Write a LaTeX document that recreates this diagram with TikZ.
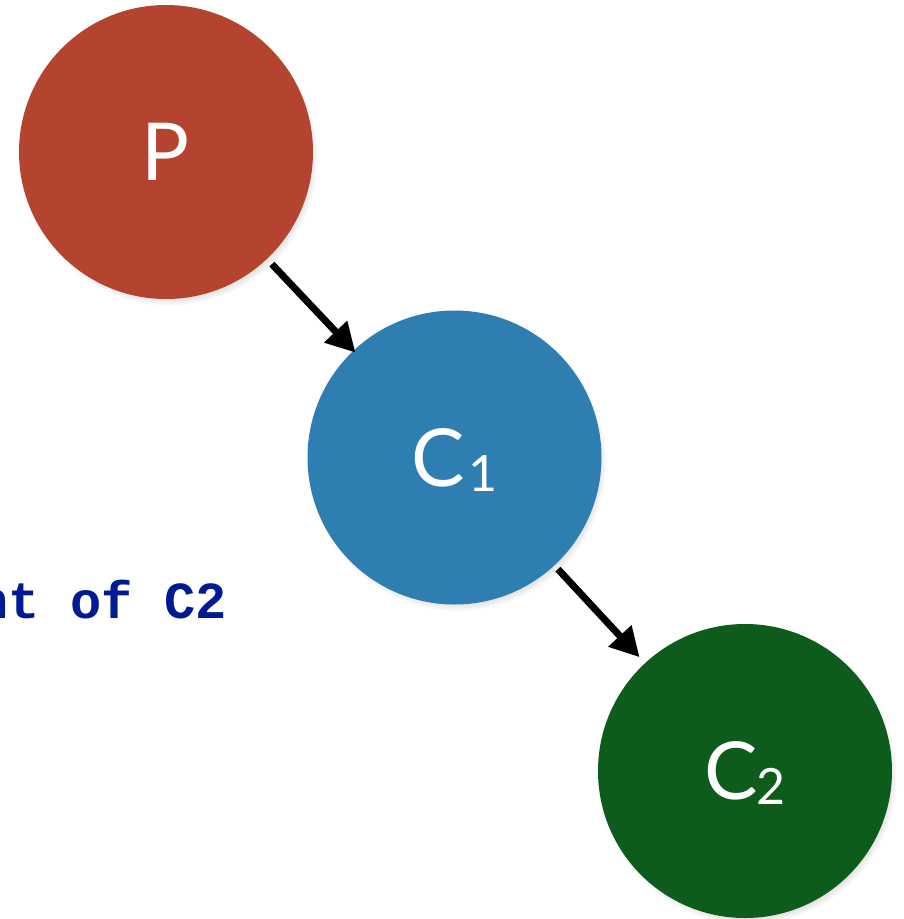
\documentclass[tikz,border=0pt]{standalone}
\usepackage{fontspec}
\setmainfont{Lato}
\newfontfamily\codefont{Liberation Mono}
\usetikzlibrary{arrows.meta,shadows}
\definecolor{nodered}{RGB}{180,67,47}
\definecolor{nodeblue}{RGB}{47,126,178}
\definecolor{nodegreen}{RGB}{13,92,27}
\definecolor{codeblue}{RGB}{0,26,148}
\tikzset{
  ball/.style={circle, minimum size=294pt, inner sep=0pt, text=white,
    font=\fontsize{80}{80}\selectfont, text height=57pt, text depth=0pt,
    circular drop shadow={shadow xshift=3pt, shadow yshift=-5pt, shadow scale=1.01, opacity=0.6}},
  link/.style={line width=7pt, -{Triangle[length=29pt,width=30pt]}},
  code/.style={inner sep=0pt, text=codeblue, font=\codefont\bfseries\fontsize{52}{52}\selectfont}
}
\newcommand{\sub}[1]{\raisebox{-5pt}{\fontsize{50}{50}\selectfont #1}}
\begin{document}
\begin{tikzpicture}[x=1pt,y=-1pt]
  \useasboundingbox (0,0) rectangle (904,919);
  \fill[white] (0,0) rectangle (904,919);
  % tree of three nodes
  \node[ball, fill=nodered]   (P)  at (166,152)   {P};
  \node[ball, fill=nodeblue]  (C1) at (454.5,457.5) {C\kern4pt\sub{1}};
  \node[ball, fill=nodegreen] (C2) at (745,771)   {C\kern-1pt\sub{2}};
  % parent links
  \draw[link, shorten <=7pt, shorten >=-3pt] (P) -- (C1);
  \draw[link, shorten <=5pt, shorten >=8pt] (C1) -- (C2);
  % code caption
  \node[code, anchor=base east] (cap) at (227,618) {nt of C2};
\end{tikzpicture}
\end{document}
